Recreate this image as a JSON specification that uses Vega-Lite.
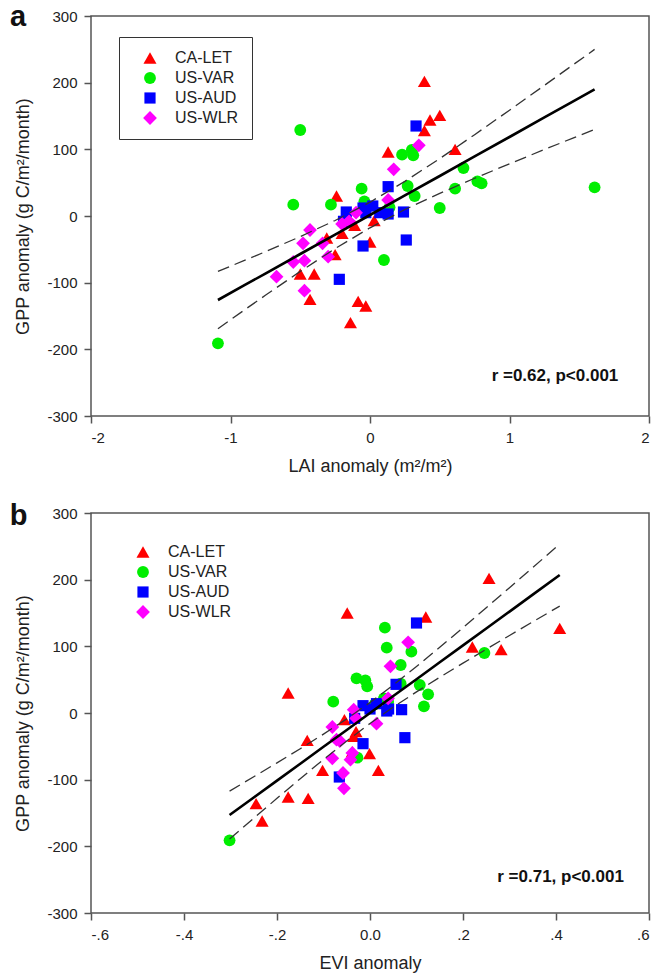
{
  "$schema": "https://vega.github.io/schema/vega-lite/v6.json",
  "background": "white",
  "padding": {"left": 8, "top": 2, "right": 5, "bottom": 5},
  "config": {
    "font": "Liberation Sans",
    "view": {"stroke": "#555", "strokeWidth": 1.5},
    "axis": {
      "grid": false, "domain": false, "tickColor": "#555", "tickSize": 7, "tickWidth": 1.5,
      "labelFont": "Liberation Sans", "labelFontSize": 15, "labelColor": "#222",
      "titleFont": "Liberation Sans", "titleFontSize": 18, "titleFontWeight": "normal", "titleColor": "#222"
    }
  },
  "datasets": {
    "lai": [
      {"site": "CA-LET", "x": 0.39, "y": 202}, {"site": "CA-LET", "x": 0.43, "y": 144}, {"site": "CA-LET", "x": 0.50, "y": 151},
      {"site": "CA-LET", "x": 0.39, "y": 128}, {"site": "CA-LET", "x": 0.13, "y": 96}, {"site": "CA-LET", "x": 0.61, "y": 100},
      {"site": "CA-LET", "x": -0.24, "y": 30}, {"site": "CA-LET", "x": 0.03, "y": -7}, {"site": "CA-LET", "x": -0.20, "y": -26},
      {"site": "CA-LET", "x": -0.11, "y": -14}, {"site": "CA-LET", "x": -0.31, "y": -33}, {"site": "CA-LET", "x": 0.0, "y": -39},
      {"site": "CA-LET", "x": -0.25, "y": -58}, {"site": "CA-LET", "x": -0.50, "y": -87}, {"site": "CA-LET", "x": -0.40, "y": -87},
      {"site": "CA-LET", "x": -0.43, "y": -125}, {"site": "CA-LET", "x": -0.085, "y": -128}, {"site": "CA-LET", "x": -0.03, "y": -135},
      {"site": "CA-LET", "x": -0.14, "y": -160},
      {"site": "US-VAR", "x": -0.50, "y": 129}, {"site": "US-VAR", "x": -0.55, "y": 17}, {"site": "US-VAR", "x": -0.28, "y": 17},
      {"site": "US-VAR", "x": -0.06, "y": 41}, {"site": "US-VAR", "x": -0.04, "y": 22}, {"site": "US-VAR", "x": 0.23, "y": 92},
      {"site": "US-VAR", "x": 0.30, "y": 99}, {"site": "US-VAR", "x": 0.31, "y": 91}, {"site": "US-VAR", "x": 0.67, "y": 72},
      {"site": "US-VAR", "x": 0.27, "y": 45}, {"site": "US-VAR", "x": 0.32, "y": 30}, {"site": "US-VAR", "x": 0.61, "y": 41},
      {"site": "US-VAR", "x": 0.77, "y": 52}, {"site": "US-VAR", "x": 0.80, "y": 49}, {"site": "US-VAR", "x": 0.50, "y": 12},
      {"site": "US-VAR", "x": 1.61, "y": 43}, {"site": "US-VAR", "x": 0.14, "y": 13}, {"site": "US-VAR", "x": 0.10, "y": -66},
      {"site": "US-VAR", "x": -1.09, "y": -191},
      {"site": "US-AUD", "x": 0.33, "y": 135}, {"site": "US-AUD", "x": 0.13, "y": 44}, {"site": "US-AUD", "x": -0.17, "y": 6},
      {"site": "US-AUD", "x": -0.05, "y": 12}, {"site": "US-AUD", "x": 0.02, "y": 15}, {"site": "US-AUD", "x": -0.03, "y": 5},
      {"site": "US-AUD", "x": 0.07, "y": 5}, {"site": "US-AUD", "x": 0.13, "y": 3}, {"site": "US-AUD", "x": 0.24, "y": 6},
      {"site": "US-AUD", "x": -0.19, "y": -8}, {"site": "US-AUD", "x": 0.26, "y": -36}, {"site": "US-AUD", "x": -0.05, "y": -45},
      {"site": "US-AUD", "x": -0.22, "y": -95},
      {"site": "US-WLR", "x": 0.35, "y": 106}, {"site": "US-WLR", "x": 0.17, "y": 70}, {"site": "US-WLR", "x": 0.13, "y": 24},
      {"site": "US-WLR", "x": -0.10, "y": 5}, {"site": "US-WLR", "x": -0.15, "y": -8}, {"site": "US-WLR", "x": -0.20, "y": -12},
      {"site": "US-WLR", "x": -0.43, "y": -21}, {"site": "US-WLR", "x": -0.48, "y": -41}, {"site": "US-WLR", "x": -0.34, "y": -41},
      {"site": "US-WLR", "x": -0.30, "y": -61}, {"site": "US-WLR", "x": -0.55, "y": -69}, {"site": "US-WLR", "x": -0.47, "y": -67},
      {"site": "US-WLR", "x": -0.67, "y": -91}, {"site": "US-WLR", "x": -0.47, "y": -112}
    ],
    "lai_fit": [
      {"x": -1.09, "fit": -126.0, "lo": -169.0, "hi": -83.0},
      {"x": -0.9, "fit": -103.8, "lo": -140.9, "hi": -66.7},
      {"x": -0.75, "fit": -86.3, "lo": -119.0, "hi": -53.6},
      {"x": -0.5, "fit": -57.0, "lo": -83.1, "hi": -30.9},
      {"x": -0.25, "fit": -27.8, "lo": -48.9, "hi": -6.7},
      {"x": 0.0, "fit": 1.5, "lo": -17.7, "hi": 20.7},
      {"x": 0.25, "fit": 30.8, "lo": 9.7, "hi": 51.9},
      {"x": 0.5, "fit": 60.0, "lo": 33.9, "hi": 86.1},
      {"x": 0.75, "fit": 89.3, "lo": 56.6, "hi": 122.0},
      {"x": 1.0, "fit": 118.5, "lo": 78.3, "hi": 158.7},
      {"x": 1.25, "fit": 147.8, "lo": 99.7, "hi": 195.9},
      {"x": 1.45, "fit": 171.2, "lo": 116.5, "hi": 225.9},
      {"x": 1.61, "fit": 189.9, "lo": 129.9, "hi": 249.9}
    ],
    "evi": [
      {"site": "CA-LET", "x": 0.256, "y": 202}, {"site": "CA-LET", "x": -0.049, "y": 150}, {"site": "CA-LET", "x": 0.12, "y": 144},
      {"site": "CA-LET", "x": 0.408, "y": 127}, {"site": "CA-LET", "x": 0.22, "y": 99}, {"site": "CA-LET", "x": 0.282, "y": 95},
      {"site": "CA-LET", "x": -0.176, "y": 30}, {"site": "CA-LET", "x": -0.055, "y": -10}, {"site": "CA-LET", "x": -0.03, "y": -28},
      {"site": "CA-LET", "x": -0.035, "y": -35}, {"site": "CA-LET", "x": -0.135, "y": -41}, {"site": "CA-LET", "x": -0.038, "y": -58},
      {"site": "CA-LET", "x": -0.001, "y": -61}, {"site": "CA-LET", "x": -0.102, "y": -86}, {"site": "CA-LET", "x": 0.018, "y": -86},
      {"site": "CA-LET", "x": -0.176, "y": -126}, {"site": "CA-LET", "x": -0.133, "y": -128}, {"site": "CA-LET", "x": -0.245, "y": -136},
      {"site": "CA-LET", "x": -0.232, "y": -162},
      {"site": "US-VAR", "x": 0.032, "y": 128}, {"site": "US-VAR", "x": 0.036, "y": 98}, {"site": "US-VAR", "x": 0.089, "y": 92},
      {"site": "US-VAR", "x": 0.246, "y": 90}, {"site": "US-VAR", "x": 0.066, "y": 72}, {"site": "US-VAR", "x": -0.029, "y": 52},
      {"site": "US-VAR", "x": -0.01, "y": 49}, {"site": "US-VAR", "x": 0.066, "y": 44}, {"site": "US-VAR", "x": 0.107, "y": 42},
      {"site": "US-VAR", "x": -0.006, "y": 40}, {"site": "US-VAR", "x": 0.125, "y": 28}, {"site": "US-VAR", "x": -0.079, "y": 17},
      {"site": "US-VAR", "x": 0.116, "y": 10}, {"site": "US-VAR", "x": 0.03, "y": 22}, {"site": "US-VAR", "x": 0.039, "y": 17},
      {"site": "US-VAR", "x": 0.01, "y": 13}, {"site": "US-VAR", "x": -0.027, "y": -67}, {"site": "US-VAR", "x": -0.302, "y": -191},
      {"site": "US-AUD", "x": 0.10, "y": 135}, {"site": "US-AUD", "x": 0.056, "y": 43}, {"site": "US-AUD", "x": 0.068, "y": 5},
      {"site": "US-AUD", "x": 0.036, "y": 3}, {"site": "US-AUD", "x": 0.014, "y": 14}, {"site": "US-AUD", "x": -0.015, "y": 11},
      {"site": "US-AUD", "x": 0.0, "y": 6}, {"site": "US-AUD", "x": 0.04, "y": 6}, {"site": "US-AUD", "x": -0.033, "y": -8},
      {"site": "US-AUD", "x": 0.075, "y": -37}, {"site": "US-AUD", "x": -0.015, "y": -46}, {"site": "US-AUD", "x": -0.066, "y": -96},
      {"site": "US-WLR", "x": 0.082, "y": 106}, {"site": "US-WLR", "x": 0.044, "y": 70}, {"site": "US-WLR", "x": 0.039, "y": 22},
      {"site": "US-WLR", "x": -0.035, "y": 5}, {"site": "US-WLR", "x": -0.03, "y": -8}, {"site": "US-WLR", "x": 0.014, "y": -16},
      {"site": "US-WLR", "x": -0.081, "y": -21}, {"site": "US-WLR", "x": -0.065, "y": -42}, {"site": "US-WLR", "x": -0.072, "y": -40},
      {"site": "US-WLR", "x": -0.038, "y": -60}, {"site": "US-WLR", "x": -0.081, "y": -68}, {"site": "US-WLR", "x": -0.042, "y": -70},
      {"site": "US-WLR", "x": -0.058, "y": -90}, {"site": "US-WLR", "x": -0.056, "y": -113}
    ],
    "evi_fit": [
      {"x": -0.302, "fit": -153.1, "lo": -189.1, "hi": -117.1},
      {"x": -0.25, "fit": -126.8, "lo": -157.9, "hi": -95.7},
      {"x": -0.2, "fit": -101.4, "lo": -128.0, "hi": -74.8},
      {"x": -0.15, "fit": -76.1, "lo": -98.6, "hi": -53.6},
      {"x": -0.1, "fit": -50.7, "lo": -69.7, "hi": -31.7},
      {"x": -0.05, "fit": -25.4, "lo": -42.0, "hi": -8.8},
      {"x": 0.0, "fit": 0.0, "lo": -15.7, "hi": 15.7},
      {"x": 0.05, "fit": 25.4, "lo": 8.8, "hi": 42.0},
      {"x": 0.1, "fit": 50.7, "lo": 31.7, "hi": 69.7},
      {"x": 0.15, "fit": 76.1, "lo": 53.6, "hi": 98.6},
      {"x": 0.2, "fit": 101.4, "lo": 74.8, "hi": 128.0},
      {"x": 0.25, "fit": 126.8, "lo": 95.7, "hi": 157.9},
      {"x": 0.3, "fit": 152.1, "lo": 116.3, "hi": 187.9},
      {"x": 0.35, "fit": 177.5, "lo": 136.8, "hi": 218.2},
      {"x": 0.408, "fit": 206.9, "lo": 160.4, "hi": 253.4}
    ]
  },
  "vconcat": [
    {
      "width": 558,
      "height": 400,
      "layer": [
        {
          "data": {"name": "lai"},
          "mark": {"type": "point", "filled": true, "opacity": 1, "strokeWidth": 0},
          "encoding": {
            "x": {"field": "x", "type": "quantitative",
              "scale": {"domain": [-2, 2], "nice": false, "zero": false},
              "axis": {"values": [-2, -1, 0, 1, 2], "title": "LAI anomaly (m²/m²)", "labelPadding": 7, "titlePadding": 12,
                "labelExpr": "datum.value < 0 ? '-' + abs(datum.value) : '' + datum.value"}},
            "y": {"field": "y", "type": "quantitative",
              "scale": {"domain": [-300, 300], "nice": false, "zero": false},
              "axis": {"values": [-300, -200, -100, 0, 100, 200, 300], "title": "GPP anomaly (g C/m²/month)", "labelPadding": 7, "titlePadding": 14,
                "labelExpr": "datum.value < 0 ? '-' + abs(datum.value) : '' + datum.value"}},
            "color": {"field": "site", "type": "nominal",
              "scale": {"domain": ["CA-LET", "US-VAR", "US-AUD", "US-WLR"], "range": ["#ff0000", "#00ee00", "#0000ff", "#ff00ff"]},
              "legend": {"orient": "none", "legendX": 28, "legendY": 21, "title": null, "strokeColor": "#333", "fillColor": "white",
                "padding": 13, "symbolOffset": 10, "labelOffset": 17, "rowPadding": 4, "labelFontSize": 16,
                "labelFont": "Liberation Sans", "labelColor": "#222", "symbolStrokeWidth": 0}},
            "shape": {"field": "site", "type": "nominal",
              "scale": {"domain": ["CA-LET", "US-VAR", "US-AUD", "US-WLR"], "range": ["triangle-up", "circle", "square", "diamond"]}},
            "size": {"field": "site", "type": "nominal",
              "scale": {"type": "ordinal", "domain": ["CA-LET", "US-VAR", "US-AUD", "US-WLR"], "range": [170, 140, 125, 190]}}
          }
        },
        {
          "data": {"name": "lai_fit"},
          "mark": {"type": "line", "color": "#333", "strokeWidth": 1.3, "strokeDash": [12, 6]},
          "encoding": {"x": {"field": "x", "type": "quantitative"}, "y": {"field": "hi", "type": "quantitative"}}
        },
        {
          "data": {"name": "lai_fit"},
          "mark": {"type": "line", "color": "#333", "strokeWidth": 1.3, "strokeDash": [12, 6]},
          "encoding": {"x": {"field": "x", "type": "quantitative"}, "y": {"field": "lo", "type": "quantitative"}}
        },
        {
          "data": {"name": "lai_fit"},
          "mark": {"type": "line", "color": "black", "strokeWidth": 2.6},
          "encoding": {"x": {"field": "x", "type": "quantitative"}, "y": {"field": "fit", "type": "quantitative"}}
        },
        {
          "data": {"values": [{}]},
          "mark": {"type": "text", "align": "right", "baseline": "middle", "fontSize": 17, "fontWeight": "bold", "color": "#111"},
          "encoding": {"x": {"datum": 1.78}, "y": {"datum": -240}, "text": {"value": "r =0.62, p<0.001"}}
        },
        {
          "data": {"values": [{}]},
          "mark": {"type": "text", "align": "left", "baseline": "alphabetic", "fontSize": 29, "fontWeight": "bold", "color": "#111", "clip": false},
          "encoding": {"x": {"datum": -2.58}, "y": {"datum": 285}, "text": {"value": "a"}}
        }
      ]
    },
    {
      "width": 558,
      "height": 400,
      "layer": [
        {
          "data": {"name": "evi"},
          "mark": {"type": "point", "filled": true, "opacity": 1, "strokeWidth": 0},
          "encoding": {
            "x": {"field": "x", "type": "quantitative",
              "scale": {"domain": [-0.6, 0.6], "nice": false, "zero": false},
              "axis": {"values": [-0.6, -0.4, -0.2, 0, 0.2, 0.4, 0.6], "title": "EVI anomaly", "labelPadding": 7, "titlePadding": 12,
                "labelExpr": "datum.value == 0 ? '0.0' : (datum.value < 0 ? '-.' : '.') + round(abs(datum.value) * 10)"}},
            "y": {"field": "y", "type": "quantitative",
              "scale": {"domain": [-300, 300], "nice": false, "zero": false},
              "axis": {"values": [-300, -200, -100, 0, 100, 200, 300], "title": "GPP anomaly (g C/m²/month)", "labelPadding": 7, "titlePadding": 14,
                "labelExpr": "datum.value < 0 ? '-' + abs(datum.value) : '' + datum.value"}},
            "color": {"field": "site", "type": "nominal",
              "scale": {"domain": ["CA-LET", "US-VAR", "US-AUD", "US-WLR"], "range": ["#ff0000", "#00ee00", "#0000ff", "#ff00ff"]},
              "legend": {"orient": "none", "legendX": 21, "legendY": 18, "title": null,
                "padding": 13, "symbolOffset": 10, "labelOffset": 17, "rowPadding": 4, "labelFontSize": 16,
                "labelFont": "Liberation Sans", "labelColor": "#222", "symbolStrokeWidth": 0}},
            "shape": {"field": "site", "type": "nominal",
              "scale": {"domain": ["CA-LET", "US-VAR", "US-AUD", "US-WLR"], "range": ["triangle-up", "circle", "square", "diamond"]}},
            "size": {"field": "site", "type": "nominal",
              "scale": {"type": "ordinal", "domain": ["CA-LET", "US-VAR", "US-AUD", "US-WLR"], "range": [170, 140, 125, 190]}}
          }
        },
        {
          "data": {"name": "evi_fit"},
          "mark": {"type": "line", "color": "#333", "strokeWidth": 1.3, "strokeDash": [12, 6]},
          "encoding": {"x": {"field": "x", "type": "quantitative"}, "y": {"field": "hi", "type": "quantitative"}}
        },
        {
          "data": {"name": "evi_fit"},
          "mark": {"type": "line", "color": "#333", "strokeWidth": 1.3, "strokeDash": [12, 6]},
          "encoding": {"x": {"field": "x", "type": "quantitative"}, "y": {"field": "lo", "type": "quantitative"}}
        },
        {
          "data": {"name": "evi_fit"},
          "mark": {"type": "line", "color": "black", "strokeWidth": 2.6},
          "encoding": {"x": {"field": "x", "type": "quantitative"}, "y": {"field": "fit", "type": "quantitative"}}
        },
        {
          "data": {"values": [{}]},
          "mark": {"type": "text", "align": "right", "baseline": "middle", "fontSize": 17, "fontWeight": "bold", "color": "#111"},
          "encoding": {"x": {"datum": 0.546}, "y": {"datum": -246}, "text": {"value": "r =0.71, p<0.001"}}
        },
        {
          "data": {"values": [{}]},
          "mark": {"type": "text", "align": "left", "baseline": "alphabetic", "fontSize": 29, "fontWeight": "bold", "color": "#111", "clip": false},
          "encoding": {"x": {"datum": -0.775}, "y": {"datum": 282}, "text": {"value": "b"}}
        }
      ]
    }
  ],
  "spacing": 97,
  "bounds": "flush",
  "resolve": {"legend": {"color": "independent", "shape": "independent", "size": "independent"}}
}
